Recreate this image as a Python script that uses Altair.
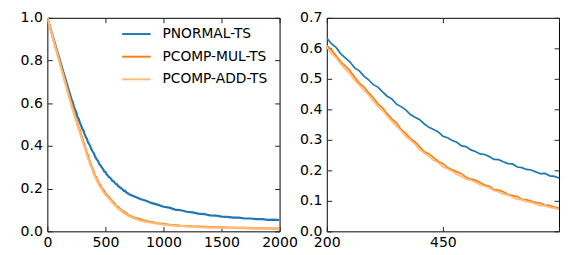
import altair as alt
import pandas as pd

SERIES = ["PNORMAL-TS", "PCOMP-MUL-TS", "PCOMP-ADD-TS"]
COLORS = ["#1f77b4", "#ff7f0e", "#ffbb78"]
FONT = "DejaVu Sans"

x_head = [0, 50, 100, 150]
x_mid = [200 + 10 * i for i in range(51)]
x_tail = [750 + 50 * i for i in range(26)]
steps = x_head + x_mid + x_tail

pnormal_head = [1.000, 0.908, 0.816, 0.724]
pnormal_mid = [.634, .615, .603, .582, .569, .555, .536, .526, .509, .497,
               .481, .473, .457, .443, .434, .417, .409, .398, .383, .374,
               .366, .352, .341, .334, .326, .312, .307, .298, .292, .280,
               .278, .267, .262, .254, .252, .245, .236, .235, .228, .222,
               .221, .211, .209, .203, .201, .195, .189, .190, .182, .180,
               .175]
pnormal_tail = [.163, .151, .143, .132, .125, .115, .111, .102, .099, .092,
                .089, .083, .081, .075, .074, .069, .068, .064, .064, .060,
                .060, .057, .057, .054, .055, .053]

pmul_head = [1.000, 0.903, 0.806, 0.709]
pmul_mid = [.610, .595, .576, .556, .542, .526, .505, .486, .473, .454,
            .438, .418, .405, .385, .369, .355, .334, .321, .304, .293,
            .277, .261, .254, .242, .229, .222, .209, .202, .195, .189,
            .177, .171, .168, .160, .152, .148, .137, .135, .130, .121,
            .117, .114, .105, .104, .099, .094, .093, .085, .085, .080,
            .076]
pmul_tail = [.064, .056, .048, .044, .038, .035, .031, .029, .026, .025,
             .023, .022, .021, .020, .019, .019, .018, .017, .017, .016,
             .015, .015, .014, .014, .013, .013]

padd_head = [1.000, 0.900, 0.801, 0.702]
padd_mid = [.604, .583, .569, .549, .531, .516, .495, .480, .462, .447,
            .427, .409, .396, .378, .360, .344, .330, .311, .299, .286,
            .268, .257, .246, .233, .225, .211, .205, .197, .186, .180,
            .171, .168, .161, .153, .148, .143, .133, .130, .122, .119,
            .112, .105, .104, .097, .095, .090, .084, .084, .078, .076,
            .072]
padd_tail = [.060, .051, .045, .040, .036, .032, .029, .027, .025, .023,
             .022, .020, .019, .018, .018, .017, .016, .016, .015, .015,
             .014, .014, .013, .013, .012, .012]

pnormal = pnormal_head + pnormal_mid + pnormal_tail
pmul = pmul_head + pmul_mid + pmul_tail
padd = padd_head + padd_mid + padd_tail

df = pd.DataFrame({
    "step": steps * 3,
    "value": pnormal + pmul + padd,
    "series": [SERIES[0]] * len(steps) + [SERIES[1]] * len(steps) + [SERIES[2]] * len(steps),
})

left_xticks = [0, 500, 1000, 1500, 2000]
left_yticks = [0.0, 0.2, 0.4, 0.6, 0.8, 1.0]
right_xticks = [200, 450, 700]
right_yticks = [0.0, 0.1, 0.2, 0.3, 0.4, 0.5, 0.6, 0.7]


def ax(orient, values, labels=True, label_expr=None, pad=5):
    kw = dict(orient=orient, values=values, title=None, grid=False, domain=False,
              tickSize=5, offset=-5, tickColor="#222", tickWidth=1,
              labels=labels, labelFont=FONT, labelFontSize=14.3, labelColor="black",
              labelFlush=False, labelPadding=pad, format=".1f" if orient in ("left", "right") else "d")
    if label_expr:
        kw["labelExpr"] = label_expr
    return alt.Axis(**kw)


def panel(data, xdom, ydom, xt, yt, legend, sw, xexpr=None):
    xs = alt.Scale(domain=xdom, nice=False, zero=False)
    ys = alt.Scale(domain=ydom, nice=False, zero=False)
    color = alt.Color("series:N", scale=alt.Scale(domain=SERIES, range=COLORS), legend=legend)
    lines = []
    for s in SERIES:
        lines.append(
            alt.Chart(data).transform_filter(alt.datum.series == s)
            .mark_line(strokeWidth=sw, clip=True)
            .encode(
                x=alt.X("step:Q", scale=xs, axis=ax("bottom", xt, label_expr=xexpr, pad=4)),
                y=alt.Y("value:Q", scale=ys, axis=ax("left", yt, pad=5)),
                color=color,
            )
        )
    inner = alt.layer(*lines)
    frame = alt.Chart(data).mark_point(opacity=0, clip=True).encode(
        x=alt.X("step:Q", scale=xs, axis=ax("top", xt, labels=False)),
        y=alt.Y("value:Q", scale=ys, axis=ax("right", yt, labels=False)),
    )
    return alt.layer(inner, frame).resolve_axis(x="independent", y="independent").properties(
        width=236, height=217)


legend = alt.Legend(orient="none", legendX=75, legendY=1, title=None, symbolType="stroke",
                    symbolSize=841, symbolStrokeWidth=2, labelFont=FONT, labelFontSize=14,
                    labelColor="black", rowPadding=-9, labelOffset=11, padding=0)

left = panel(df, [0, 2000], [0, 1], left_xticks, left_yticks, legend, 2.2)
right_df = df[(df["step"] >= 200) & (df["step"] <= 700)]
right = panel(right_df, [200, 700], [0, 0.7], right_xticks, right_yticks, None, 1.7,
              xexpr="datum.value == 700 ? '' : datum.label")

chart = alt.hconcat(left, right, spacing=48, bounds="flush").resolve_scale(
    color="independent").properties(
    padding={"left": 11, "top": 0, "right": 0, "bottom": 0}
).configure_view(stroke="black", strokeWidth=1)

chart.save("out.html", embed_options={"renderer": "svg", "actions": False})
